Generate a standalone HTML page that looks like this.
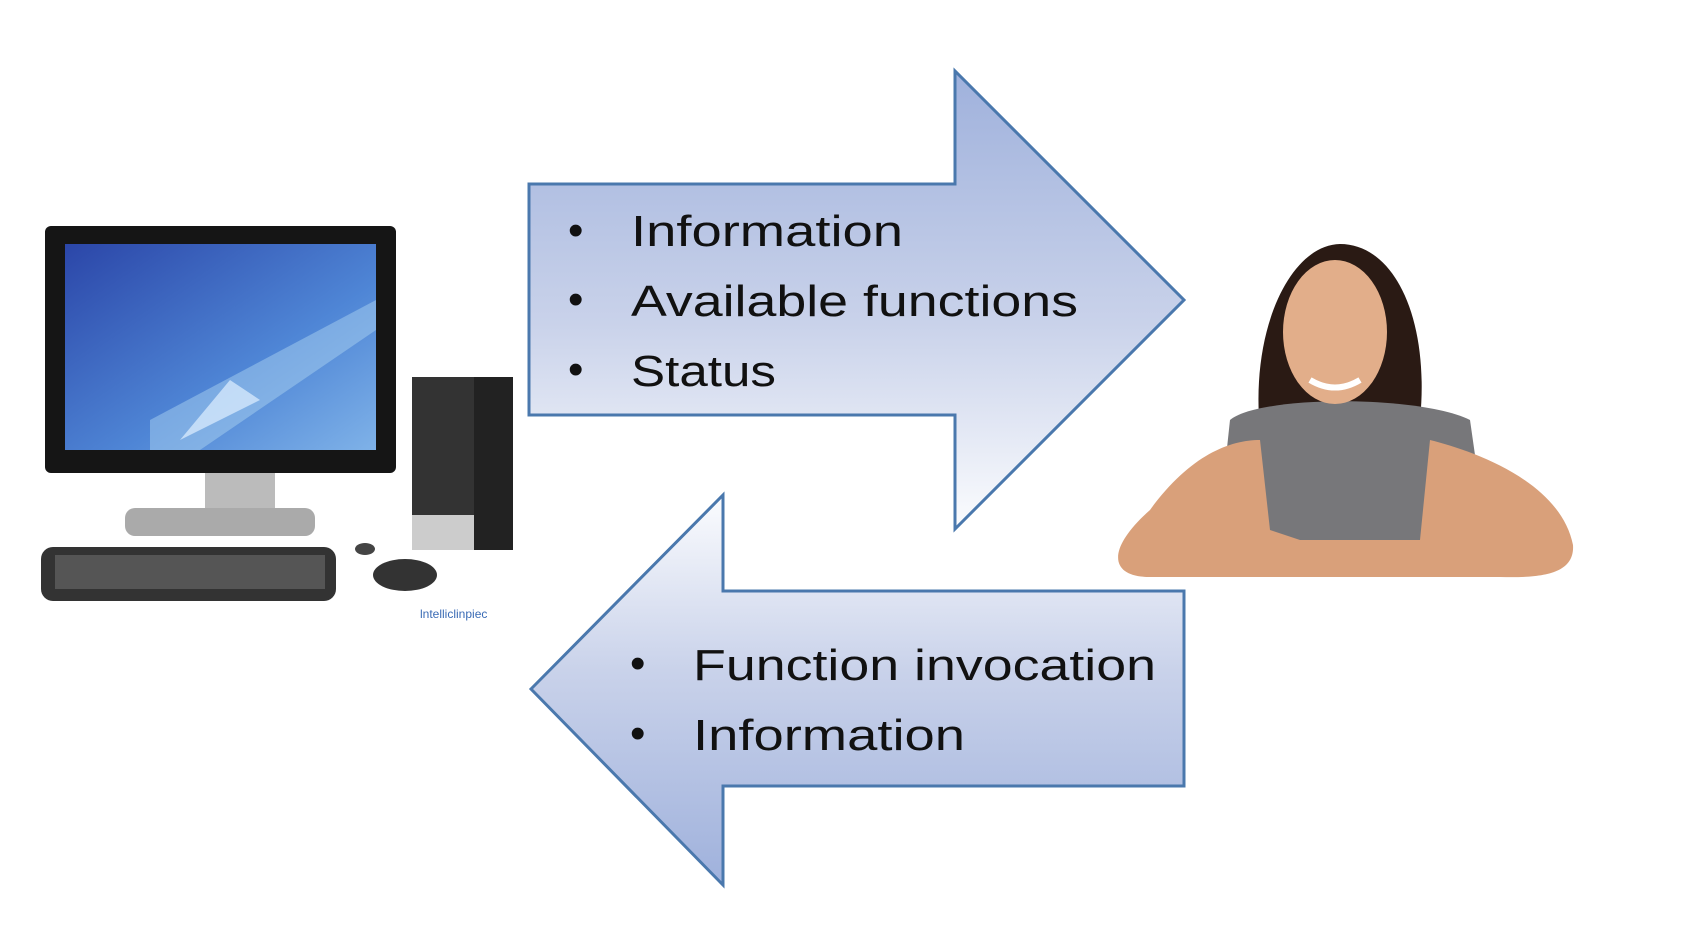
<!DOCTYPE html>
<html><head><meta charset="utf-8"><style>
html,body{margin:0;padding:0;background:#fff;width:1698px;height:940px;overflow:hidden}
svg{display:block}
text{font-family:"Liberation Sans",sans-serif;fill:#111}
</style></head><body>
<svg width="1698" height="940" viewBox="0 0 1698 940">
<defs>
<linearGradient id="g1" x1="0" y1="0" x2="0" y2="1">
<stop offset="0" stop-color="#9fb1dc"/><stop offset="0.55" stop-color="#c9d2ea"/><stop offset="1" stop-color="#fbfcfe"/></linearGradient>
<linearGradient id="g2" x1="0" y1="0" x2="0" y2="1">
<stop offset="0" stop-color="#fbfcfe"/><stop offset="0.45" stop-color="#c9d2ea"/><stop offset="1" stop-color="#9fb1dc"/></linearGradient>
<linearGradient id="scr" x1="0" y1="0" x2="1" y2="1">
<stop offset="0" stop-color="#2b46a8"/><stop offset="0.6" stop-color="#4f86d6"/><stop offset="1" stop-color="#7fb2e8"/></linearGradient>
</defs>
<!-- upper arrow -->
<polygon points="529,184 955,184 955,71 1184,300 955,529 955,415 529,415" fill="url(#g1)" stroke="#4a78ad" stroke-width="3"/>
<!-- lower arrow -->
<polygon points="531,689 723,495 723,591 1184,591 1184,786 723,786 723,885" fill="url(#g2)" stroke="#4a78ad" stroke-width="3"/>
<g font-size="44">
<text x="568" y="245">•</text><text x="631" y="246" textLength="272" lengthAdjust="spacingAndGlyphs">Information</text>
<text x="568" y="314">•</text><text x="631" y="316" textLength="447" lengthAdjust="spacingAndGlyphs">Available functions</text>
<text x="568" y="384">•</text><text x="631" y="386" textLength="145" lengthAdjust="spacingAndGlyphs">Status</text>
<text x="630" y="678">•</text><text x="693" y="680" textLength="463" lengthAdjust="spacingAndGlyphs">Function invocation</text>
<text x="630" y="748">•</text><text x="693" y="750" textLength="272" lengthAdjust="spacingAndGlyphs">Information</text>
</g>
<!-- computer -->
<rect x="45" y="226" width="351" height="247" rx="6" fill="#151515"/>
<rect x="65" y="244" width="311" height="206" fill="url(#scr)"/>
<polygon points="150,420 376,300 376,330 200,450 150,450" fill="#a8d0f0" opacity="0.5"/>
<polygon points="180,440 230,380 260,400" fill="#e0f0ff" opacity="0.7"/>
<rect x="205" y="473" width="70" height="40" fill="#bbb"/>
<rect x="125" y="508" width="190" height="28" rx="10" fill="#aaa"/>
<rect x="412" y="377" width="101" height="173" fill="#222"/>
<rect x="412" y="377" width="62" height="173" fill="#333"/>
<rect x="412" y="515" width="62" height="35" fill="#ccc"/>
<rect x="41" y="547" width="295" height="54" rx="12" fill="#333"/>
<rect x="55" y="555" width="270" height="34" fill="#555"/>
<ellipse cx="405" cy="575" rx="32" ry="16" fill="#333"/>
<ellipse cx="365" cy="549" rx="10" ry="6" fill="#444"/>
<text x="420" y="618" font-size="12" fill="#3a6bb5" style="fill:#3a6bb5">lntelliclinpiec</text>
<!-- girl -->
<path d="M1260,430 C1250,330 1290,245 1340,244 C1395,244 1430,320 1420,420 L1425,530 L1255,530 Z" fill="#2a1a14"/>
<path d="M1230,420 C1260,395 1420,395 1470,420 L1490,560 L1215,560 Z" fill="#77777a"/>
<path d="M1150,510 C1190,455 1230,440 1260,440 L1270,530 L1300,540 L1420,540 L1430,440 C1470,450 1560,480 1573,545 C1575,575 1540,578 1500,577 L1150,577 C1110,577 1105,550 1150,510 Z" fill="#d9a07a"/>
<ellipse cx="1335" cy="332" rx="52" ry="72" fill="#e2ae8a"/>
<path d="M1310,380 Q1335,395 1360,380" stroke="#fff" stroke-width="6" fill="none"/>
</svg>
</body></html>
